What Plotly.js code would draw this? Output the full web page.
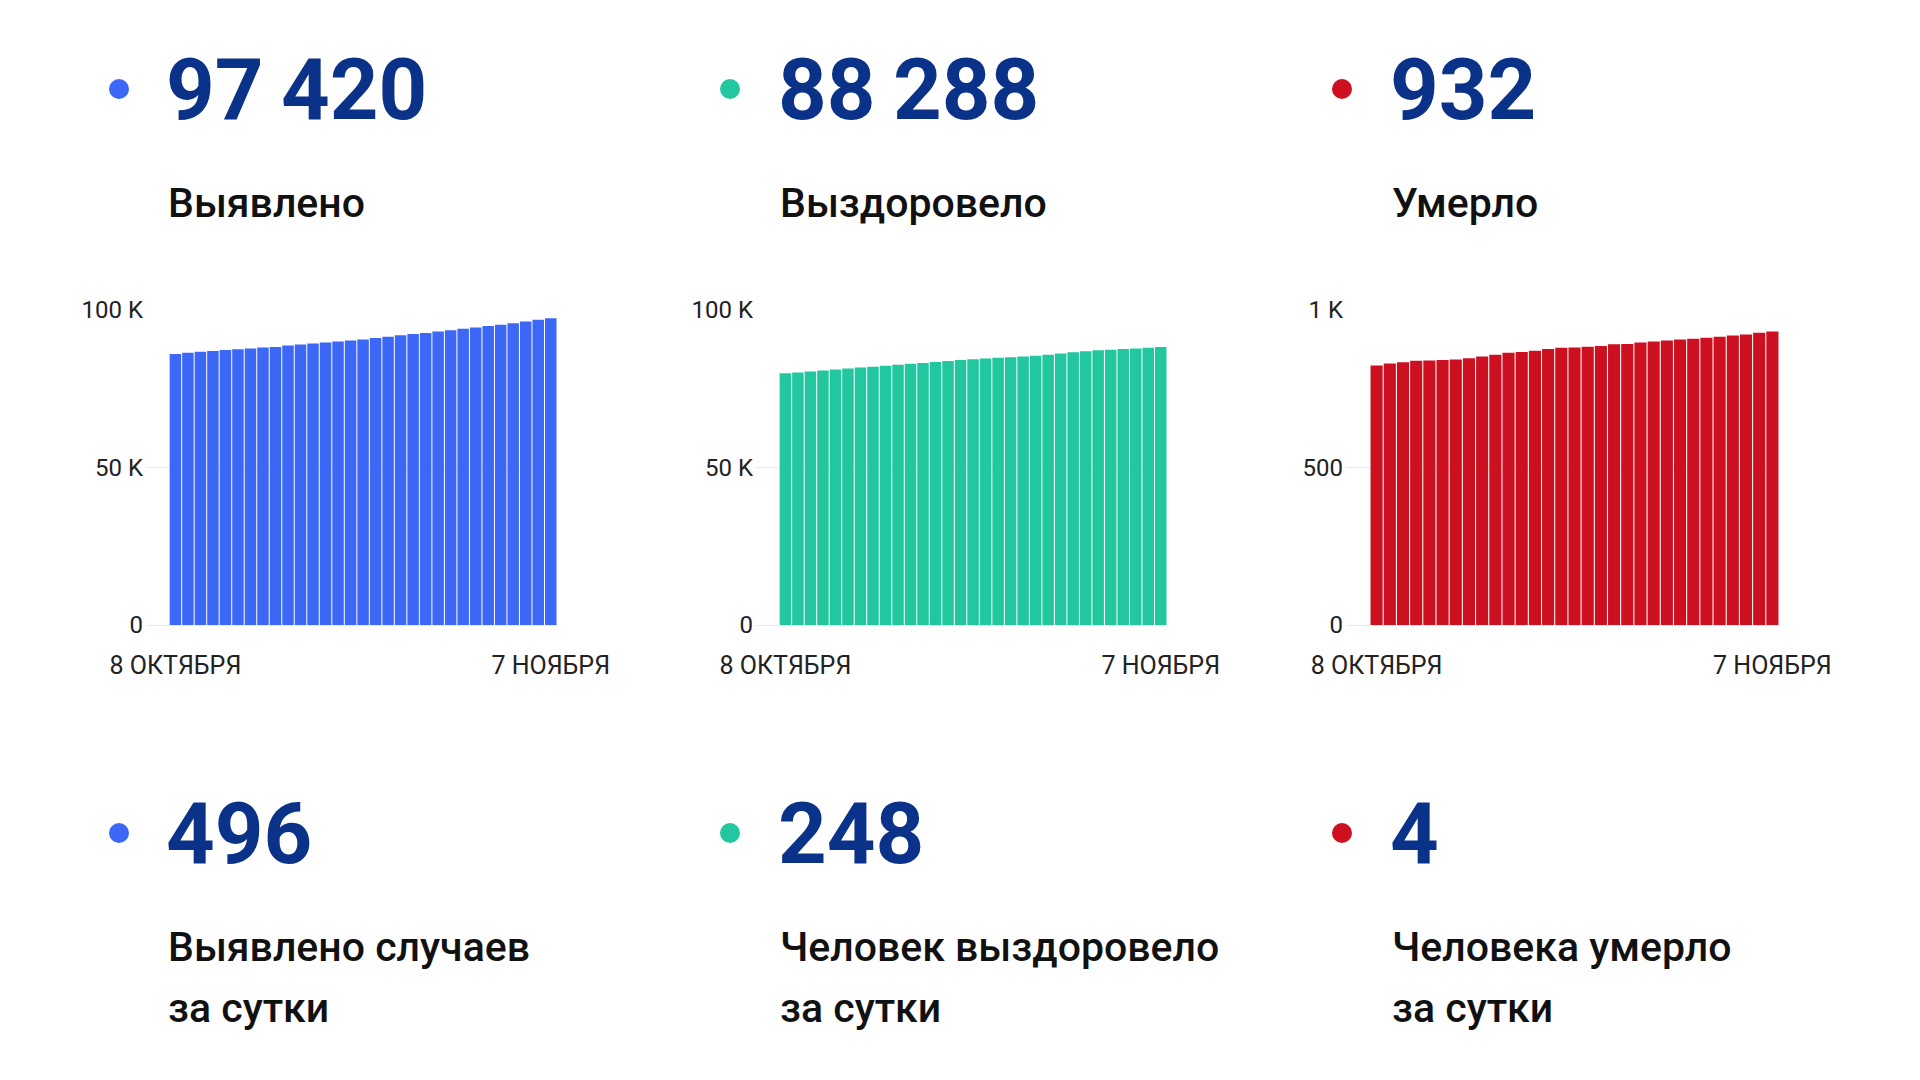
<!DOCTYPE html>
<html>
<head>
<meta charset="utf-8">
<script src="https://cdn.plot.ly/plotly-3.0.1.min.js"></script>
<style>
html,body{margin:0;padding:0;background:#fff;}
#chart{width:1920px;height:1080px;}
</style>
</head>
<body>
<div id="chart"></div>
<script>
// ---- data ----
const dates = ["08.10","09.10","10.10","11.10","12.10","13.10","14.10","15.10","16.10","17.10",
  "18.10","19.10","20.10","21.10","22.10","23.10","24.10","25.10","26.10","27.10",
  "28.10","29.10","30.10","31.10","01.11","02.11","03.11","04.11","05.11","06.11","07.11"];
const tickDates = ["08.10","07.11"];
const tickDateLabels = ["8 ОКТЯБРЯ","7 НОЯБРЯ"];

const confirmed = [86010,86430,86760,86980,87300,87520,87740,88060,88280,88710,
  89040,89370,89690,90020,90340,90670,91100,91540,91970,92410,
  92730,93170,93600,94040,94470,94910,95340,95780,96320,96924,97420];
const recovered = [79930,80140,80470,80800,81120,81450,81770,81990,82320,82640,
  82970,83180,83510,83840,84160,84380,84600,84810,85030,85250,
  85460,85790,86230,86550,86880,87200,87420,87640,87750,88040,88288];
const deaths = [824,830,834,839,840,841,843,847,852,858,
  864,867,871,876,880,881,883,886,891,892,
  897,900,903,906,909,912,915,919,922,928,932];

const totalLabels = ["97\u2009420","88\u2009288","932"];
const totalCaptions = ["Выявлено","Выздоровело","Умерло"];
const dailyLabels = ["496","248","4"];
const dailyCaptions = [["Выявлено случаев","за сутки"],["Человек выздоровело","за сутки"],["Человека умерло","за сутки"]];

const bigTicks = [0,50000,100000], bigTickText = ["0","50 K","100 K"];
const smallTicks = [0,500,1000], smallTickText = ["0","500","1 K"];

// ---- styling ----
const colors = ["#3d67f7","#22c7a0","#cd1020"];
const navy = "#0a3288";
const W = 1920, H = 1080;
const px = x => x / W;
const py = y => 1 - y / H;

const panels = [
  {x0:146, x1:557, left:169, dot:119},
  {x0:756, x1:1167, left:781, dot:730},
  {x0:1346, x1:1779, left:1393, dot:1342}
];
const series = [confirmed, recovered, deaths];

const traces = series.map((s,i)=>({
  type:'bar', x:dates, y:s,
  xaxis: i===0?'x':'x'+(i+1), yaxis: i===0?'y':'y'+(i+1),
  marker:{color:colors[i], line:{width:0}},
  hoverinfo:'skip'
}));

const layout = {
  width:W, height:H, margin:{l:0,r:0,t:0,b:0},
  paper_bgcolor:'#fff', plot_bgcolor:'#fff',
  showlegend:false, bargap:0.08,
  font:{family:'Roboto, sans-serif', color:'#222'},
  annotations:[], shapes:[]
};

panels.forEach((p,i)=>{
  const sfx = i===0?'':String(i+1);
  layout['xaxis'+sfx] = {
    domain:[px(p.x0), px(p.x1)], anchor:'y'+sfx, type:'category',
    range:[i===2?-2.32:-2.35, 30.5],
    tickvals:tickDates, ticktext:tickDateLabels,
    ticks:'outside', ticklen:18, tickcolor:'rgba(0,0,0,0)',
    showgrid:false, zeroline:false, showline:false,
    tickfont:{size:25, color:'#222', family:'Roboto'}, fixedrange:true
  };
  layout['yaxis'+sfx] = {
    domain:[py(625), py(310)], anchor:'x'+sfx,
    range: i===2?[0,1000]:[0,100000],
    tickvals: i===2?smallTicks:bigTicks, ticktext: i===2?smallTickText:bigTickText,
    showgrid:true, gridcolor:'#ebebeb', gridwidth:1,
    zeroline:true, zerolinecolor:'#ebebeb', zerolinewidth:1,
    showline:false, ticks:'', ticklabelstandoff:2,
    tickfont:{size:24, color:'#222', family:'Roboto'}, fixedrange:true
  };
  // dots
  [89, 833].forEach(cy=>{
    layout.shapes.push({type:'circle', xref:'paper', yref:'paper',
      x0:px(p.dot-10), x1:px(p.dot+10), y0:py(cy+10), y1:py(cy-10),
      fillcolor:colors[i], line:{width:0}});
  });
  // big numbers
  layout.annotations.push({xref:'paper', yref:'paper', x:px(p.left-5), y:py(90),
    xanchor:'left', yanchor:'middle', showarrow:false, text:totalLabels[i],
    font:{family:'Roboto', size:85, color:navy, weight:700}});
  layout.annotations.push({xref:'paper', yref:'paper', x:px(p.left-3), y:py(203),
    xanchor:'left', yanchor:'middle', showarrow:false, text:totalCaptions[i],
    font:{family:'Roboto', size:41, color:'#111', weight:500}});
  layout.annotations.push({xref:'paper', yref:'paper', x:px(p.left-5), y:py(834),
    xanchor:'left', yanchor:'middle', showarrow:false, text:dailyLabels[i],
    font:{family:'Roboto', size:85, color:navy, weight:700}});
  dailyCaptions[i].forEach((line,k)=>{
    layout.annotations.push({xref:'paper', yref:'paper', x:px(p.left-3), y:py(947+61*k),
      xanchor:'left', yanchor:'middle', showarrow:false, text:line,
      font:{family:'Roboto', size:41, color:'#111', weight:500}});
  });
});

Plotly.newPlot('chart', traces, layout, {displayModeBar:false, staticPlot:true});
</script>
</body>
</html>
